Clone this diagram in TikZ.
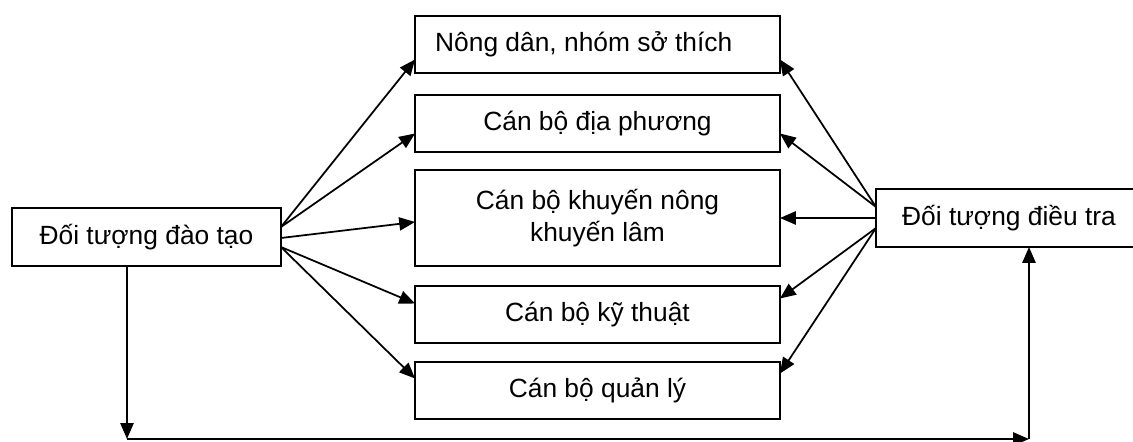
\documentclass[tikz,border=0pt]{standalone}
\usepackage{fontspec}
\setmainfont{Liberation Sans}
\usetikzlibrary{positioning,calc,arrows.meta}

\begin{document}
\begin{tikzpicture}[x=0.02cm,y=-0.02cm,line width=1pt,
  box/.style={draw,inner sep=0pt,outer sep=0pt,align=center,font=\fontsize{15}{18}\selectfont},
  arr/.style={-{Triangle[length=9pt,width=7.5pt]}}]
\useasboundingbox (0,0) rectangle (1133,442);
\clip (0,0) rectangle (1133,442);
\node[box,minimum width=5.38cm,minimum height=1.16cm] (daotao) at (146.5,237) {Đối tượng đào tạo};
\node[box,minimum width=5.5cm,minimum height=1.16cm] (dieutra) at (1013.5,218) {Đối tượng điều tra\hspace*{0.18cm}};
\node[box,minimum width=7.3cm,minimum height=1.14cm] (nongdan) at (597.5,44.5) {Nông dân, nhóm sở thích\hspace*{0.55cm}};
\node[box,minimum width=7.3cm,minimum height=1.14cm] (diaphuong) at (597.5,123.5) {Cán bộ địa phương};
\node[box,minimum width=7.3cm,minimum height=1.92cm] (khuyennong) at (597.5,218) {Cán bộ khuyến nông\\khuyến lâm};
\node[box,minimum width=7.3cm,minimum height=1.14cm] (kythuat) at (597.5,314.5) {Cán bộ kỹ thuật};
\node[box,minimum width=7.3cm,minimum height=1.14cm] (quanly) at (597.5,390.5) {Cán bộ quản lý};
\coordinate (bl) at (127,439);
\coordinate (br) at (1029,439);
% tu doi tuong dao tao
\draw[arr] ($(daotao.east)+(0,-10)$)--($(nongdan.west)+(0,15)$);
\draw[arr] ($(daotao.east)+(0,-10)$)--($(diaphuong.west)+(0,10)$);
\draw[arr] ($(daotao.east)+(0,1)$)--($(khuyennong.west)+(0,4)$);
\draw[arr] ($(daotao.east)+(0,10)$)--($(kythuat.west)+(0,-11)$);
\draw[arr] ($(daotao.east)+(0,10)$)--($(quanly.west)+(0,-12)$);
% tu doi tuong dieu tra
\draw[arr] ($(dieutra.west)+(0,-11)$)--($(nongdan.east)+(0,15)$);
\draw[arr] ($(dieutra.west)+(0,-11)$)--($(diaphuong.east)+(0,10)$);
\draw[arr] (dieutra.west)--(khuyennong.east);
\draw[arr] ($(dieutra.west)+(0,10)$)--($(kythuat.east)+(0,-16)$);
\draw[arr] ($(dieutra.west)+(0,10)$)--($(quanly.east)+(0,-17)$);
% duong duoi
\draw[arr] (bl |- daotao.south)--(bl);
\draw[arr] (bl)--(br);
\draw[arr] (br)--(br |- dieutra.south);
\end{tikzpicture}
\end{document}
